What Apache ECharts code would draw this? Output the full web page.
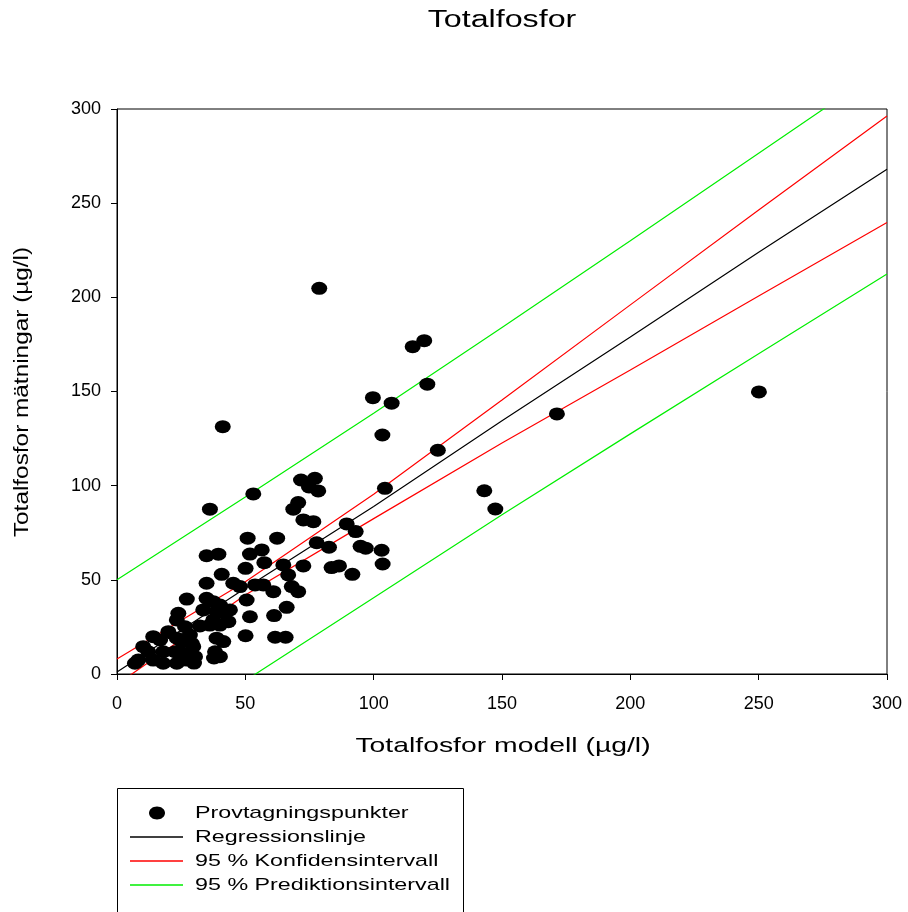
<!DOCTYPE html>
<html>
<head>
<meta charset="utf-8">
<script src="https://cdn.jsdelivr.net/npm/echarts@6/dist/echarts.min.js"></script>
<style>
  html, body { margin: 0; padding: 0; background: #fff; }
  #chart { width: 908px; height: 912px; }
</style>
</head>
<body>
<div id="chart"></div>
<script>
// sampling points: modelled vs measured total phosphorus (µg/l)
const modelX = [
  78.8, 41.2, 115.2, 119.7, 120.9, 99.7, 107.0, 103.4, 125.0, 104.4,
  143.1, 147.4, 171.4, 250.1, 53.1, 36.2, 71.7, 77.1, 78.4, 74.8,
  70.6, 68.7, 72.6, 76.5, 89.5, 93.0, 77.8, 82.6, 94.9, 96.9,
  103.1, 103.5, 72.6, 83.6, 86.5, 91.7, 50.9, 62.4, 56.4, 51.8,
  34.9, 39.5, 57.4, 50.1, 64.8, 66.7, 40.8, 45.3, 47.9, 34.9,
  53.8, 57.0, 60.9, 68.1, 70.6, 27.2, 34.9, 37.5, 40.1, 50.5,
  33.6, 38.8, 42.1, 44.0, 51.8, 61.2, 66.1, 23.9, 23.3, 26.5,
  28.4, 32.3, 36.2, 40.1, 37.5, 43.4, 38.8, 38.2, 41.4, 50.1,
  61.6, 65.7, 14.1, 16.8, 20.0, 23.3, 25.2, 29.1, 29.7, 10.2,
  12.2, 18.0, 22.6, 25.8, 30.4, 8.3, 7.0, 14.1, 18.0, 23.3,
  27.2, 40.1, 30.0, 37.8
];
const measuredY = [
  204.8, 131.3, 173.8, 177.0, 153.9, 146.7, 143.8, 126.9, 118.8, 98.6,
  97.3, 87.6, 138.1, 149.8, 95.6, 87.5, 103.0, 103.9, 97.2, 99.3,
  91.0, 87.5, 81.8, 80.9, 79.7, 75.6, 69.7, 67.3, 67.8, 66.8,
  65.7, 58.4, 57.4, 56.5, 57.4, 52.9, 72.1, 72.1, 65.9, 63.7,
  62.8, 63.6, 59.1, 56.1, 57.9, 52.6, 52.9, 48.2, 46.4, 48.2,
  47.3, 47.3, 43.7, 46.4, 43.7, 39.8, 40.2, 38.4, 36.6, 39.3,
  34.0, 33.1, 32.2, 34.0, 30.4, 31.0, 35.4, 32.2, 28.7, 25.1,
  20.7, 25.5, 26.0, 26.0, 28.7, 27.8, 19.0, 11.8, 17.2, 20.3,
  19.5, 19.5, 19.8, 18.1, 22.5, 19.0, 17.2, 16.3, 14.5, 14.5,
  11.8, 11.8, 11.8, 11.0, 9.2, 7.4, 5.7, 7.4, 5.7, 5.7,
  7.4, 9.2, 5.8, 8.5
];

// fitted lines at these x positions
const lineX = [0, 50, 100, 150, 200, 250, 300];
const regression = [1, 45.5, 89, 134.5, 179, 224, 268];
const confUpper = [8, 49, 95.5, 145.5, 196, 246.4, 296.3];
const confLower = [-5.5, 42, 82.5, 122.7, 161.4, 200.7, 239.7];
const predUpper = [50, 94, 138.5, 184, 230, 276.5, 323];
const predLower = [-46, -3.5, 40.5, 84.5, 127.5, 170, 212.4];

const axisTicks = [0, 50, 100, 150, 200, 250, 300];

const legendNames = ['Provtagningspunkter', 'Regressionslinje', '95 % Konfidensintervall', '95 % Prediktionsintervall'];
const legendColors = ['#000000', '#000000', '#ff0000', '#00ee00'];

const FONT = 'Liberation Sans, Arial, sans-serif';
const pair = (xs, ys) => xs.map((x, i) => [x, ys[i]]);

function lineSeries(name, ys, color, width) {
  return {
    name: name,
    type: 'line',
    data: pair(lineX, ys),
    symbol: 'none',
    clip: true,
    z: 2,
    lineStyle: { color: color, width: width },
    emphasis: { disabled: true }
  };
}

// the original plot's text is stretched sideways, so draw it with a scale
function stretchedText(text, x, y, size, scaleX, rotation) {
  return {
    type: 'text',
    x: x, y: y,
    rotation: rotation || 0,
    scaleX: scaleX,
    silent: true,
    style: {
      text: text, fill: '#000', fontFamily: FONT, fontSize: size,
      align: 'center', verticalAlign: 'middle'
    }
  };
}

// legend box drawn by hand
const legendGraphic = [{
  type: 'rect',
  shape: { x: 117.5, y: 788.5, width: 346, height: 160 },
  style: { fill: 'none', stroke: '#000', lineWidth: 1 },
  silent: true
}];
legendNames.forEach((name, i) => {
  const cy = 813 + i * 24;
  if (i === 0) {
    legendGraphic.push({
      type: 'ellipse', silent: true,
      shape: { cx: 157, cy: cy, rx: 8, ry: 6.5 },
      style: { fill: '#000' }
    });
  } else {
    legendGraphic.push({
      type: 'line', silent: true,
      shape: { x1: 130, y1: cy, x2: 183, y2: cy },
      style: { stroke: legendColors[i], lineWidth: 1.3 }
    });
  }
  legendGraphic.push({
    type: 'text', x: 195, y: cy, scaleX: 1.37, silent: true,
    style: {
      text: name, fill: '#000', fontFamily: FONT, fontSize: 17,
      align: 'left', verticalAlign: 'middle'
    }
  });
});

const chart = echarts.init(document.getElementById('chart'), null, { renderer: 'canvas' });
chart.setOption({
  animation: false,
  backgroundColor: '#ffffff',
  textStyle: { fontFamily: FONT, color: '#000' },
  grid: {
    left: 117, top: 109, right: 21, bottom: 238,
    show: true, borderColor: '#000', borderWidth: 1, backgroundColor: 'transparent'
  },
  xAxis: {
    type: 'value',
    min: 0, max: 300, interval: 50,
    axisLine: { show: true, onZero: false, lineStyle: { color: '#000', width: 1 } },
    axisTick: { show: true, length: 6, lineStyle: { color: '#000' } },
    axisLabel: { fontFamily: FONT, fontSize: 18, color: '#000', margin: 21 },
    splitLine: { show: false }
  },
  yAxis: {
    type: 'value',
    min: 0, max: 300, interval: 50,
    axisLine: { show: true, onZero: false, lineStyle: { color: '#000', width: 1 } },
    axisTick: { show: true, length: 6, lineStyle: { color: '#000' } },
    axisLabel: { fontFamily: FONT, fontSize: 18, color: '#000', margin: 16 },
    splitLine: { show: false }
  },
  graphic: [
    stretchedText('Totalfosfor', 502, 21, 23, 1.4),
    stretchedText('Totalfosfor modell (µg/l)', 503, 746, 21, 1.35),
    stretchedText('Totalfosfor mätningar (µg/l)', 22, 392, 21, 1.16, Math.PI / 2)
  ].concat(legendGraphic),
  series: [
    lineSeries('Regressionslinje', regression, '#000000', 1.2),
    lineSeries('95 % Konfidensintervall', confUpper, '#ff0000', 1.2),
    lineSeries('95 % Konfidensintervall', confLower, '#ff0000', 1.2),
    lineSeries('95 % Prediktionsintervall', predUpper, '#00ee00', 1.2),
    lineSeries('95 % Prediktionsintervall', predLower, '#00ee00', 1.2),
    {
      name: 'Provtagningspunkter',
      type: 'scatter',
      data: pair(modelX, measuredY),
      symbol: 'circle',
      symbolSize: [16, 13],
      z: 5,
      itemStyle: { color: '#000000', opacity: 1 },
      emphasis: { disabled: true }
    }
  ]
});
</script>
</body>
</html>
